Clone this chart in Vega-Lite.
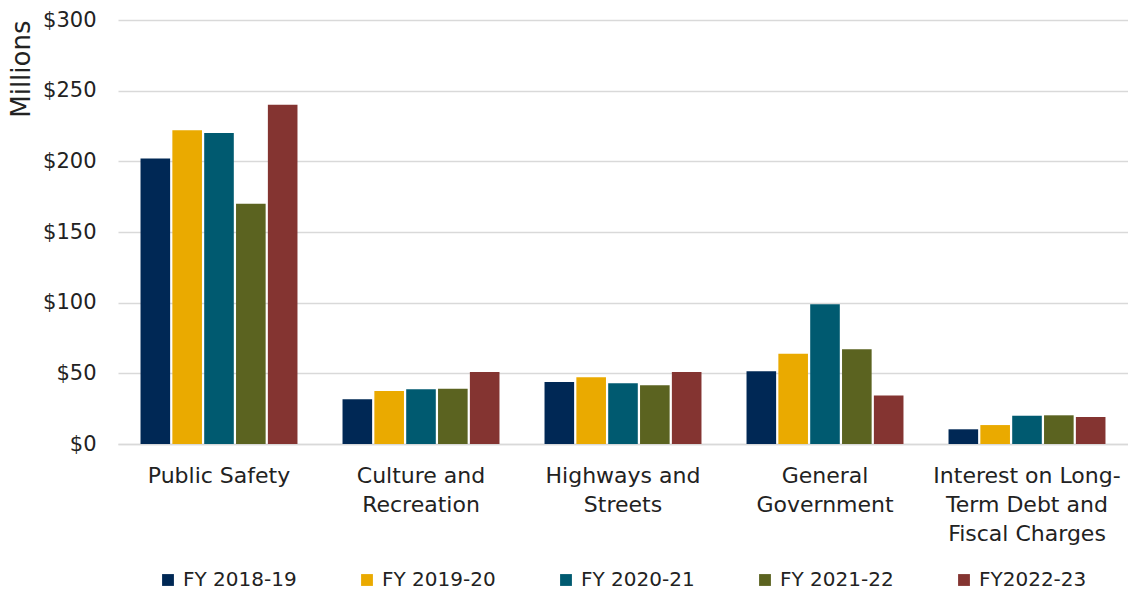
{
  "$schema": "https://vega.github.io/schema/vega-lite/v6.json",
  "width": 1010,
  "height": 424,
  "autosize": {"type": "none"},
  "padding": {"left": 118, "top": 20, "right": 0, "bottom": 152},
  "background": "white",
  "config": {
    "view": {"stroke": null},
    "font": "DejaVu Sans"
  },
  "data": {
    "values": [
      {"category": "Public Safety", "year": "FY 2018-19", "value": 202},
      {"category": "Public Safety", "year": "FY 2019-20", "value": 222},
      {"category": "Public Safety", "year": "FY 2020-21", "value": 220},
      {"category": "Public Safety", "year": "FY 2021-22", "value": 170},
      {"category": "Public Safety", "year": "FY2022-23", "value": 240},
      {"category": "Culture and Recreation", "year": "FY 2018-19", "value": 31.6},
      {"category": "Culture and Recreation", "year": "FY 2019-20", "value": 37.5},
      {"category": "Culture and Recreation", "year": "FY 2020-21", "value": 38.7},
      {"category": "Culture and Recreation", "year": "FY 2021-22", "value": 39.1},
      {"category": "Culture and Recreation", "year": "FY2022-23", "value": 51},
      {"category": "Highways and Streets", "year": "FY 2018-19", "value": 43.9},
      {"category": "Highways and Streets", "year": "FY 2019-20", "value": 47.2},
      {"category": "Highways and Streets", "year": "FY 2020-21", "value": 42.9},
      {"category": "Highways and Streets", "year": "FY 2021-22", "value": 41.5},
      {"category": "Highways and Streets", "year": "FY2022-23", "value": 51},
      {"category": "General Government", "year": "FY 2018-19", "value": 51.4},
      {"category": "General Government", "year": "FY 2019-20", "value": 63.9},
      {"category": "General Government", "year": "FY 2020-21", "value": 98.8},
      {"category": "General Government", "year": "FY 2021-22", "value": 67},
      {"category": "General Government", "year": "FY2022-23", "value": 34.4},
      {"category": "Interest on Long-Term Debt and Fiscal Charges", "year": "FY 2018-19", "value": 10.4},
      {"category": "Interest on Long-Term Debt and Fiscal Charges", "year": "FY 2019-20", "value": 13.4},
      {"category": "Interest on Long-Term Debt and Fiscal Charges", "year": "FY 2020-21", "value": 20},
      {"category": "Interest on Long-Term Debt and Fiscal Charges", "year": "FY 2021-22", "value": 20.3},
      {"category": "Interest on Long-Term Debt and Fiscal Charges", "year": "FY2022-23", "value": 19.1}
    ]
  },
  "mark": {"type": "bar"},
  "encoding": {
    "x": {
      "field": "category",
      "type": "nominal",
      "sort": null,
      "scale": {"paddingInner": 0.223, "paddingOuter": 0.1115},
      "axis": {
        "title": null,
        "labelAngle": 0,
        "labelFontSize": 22,
        "labelColor": "#222222",
        "labelLineHeight": 29,
        "labelPadding": 21,
        "labelBaseline": "top",
        "labelLimit": 300,
        "ticks": false,
        "domain": true,
        "domainColor": "#d9d9d9",
        "domainWidth": 1.5,
        "labelExpr": "datum.value == 'Culture and Recreation' ? ['Culture and', 'Recreation'] : datum.value == 'Highways and Streets' ? ['Highways and', 'Streets'] : datum.value == 'General Government' ? ['General', 'Government'] : datum.value == 'Interest on Long-Term Debt and Fiscal Charges' ? ['Interest on Long-', 'Term Debt and', 'Fiscal Charges'] : datum.value"
      }
    },
    "xOffset": {
      "field": "year",
      "type": "nominal",
      "sort": null,
      "scale": {"paddingInner": 0.07}
    },
    "y": {
      "field": "value",
      "type": "quantitative",
      "scale": {"domain": [0, 300], "nice": false},
      "axis": {
        "title": "Millions",
        "titleFontSize": 26,
        "titleFontWeight": "normal",
        "titleColor": "#222222",
        "titleAngle": -90,
        "titleAlign": "right",
        "titleBaseline": "middle",
        "titleX": -97,
        "titleY": 0,
        "values": [0, 50, 100, 150, 200, 250, 300],
        "labelExpr": "'$' + datum.value",
        "labelFontSize": 21,
        "labelColor": "#222222",
        "labelPadding": 22,
        "ticks": false,
        "domain": false,
        "gridColor": "#d9d9d9",
        "gridWidth": 1.5
      }
    },
    "color": {
      "field": "year",
      "type": "nominal",
      "sort": null,
      "scale": {
        "domain": ["FY 2018-19", "FY 2019-20", "FY 2020-21", "FY 2021-22", "FY2022-23"],
        "range": ["#002855", "#EAAA00", "#005A70", "#5B6320", "#843431"]
      },
      "legend": {
        "title": null,
        "orient": "none",
        "direction": "horizontal",
        "legendX": 40,
        "legendY": 550,
        "symbolType": "square",
        "symbolSize": 140,
        "symbolStrokeWidth": 0,
        "labelFontSize": 20,
        "labelColor": "#222222",
        "labelOffset": 5,
        "columnPadding": 60,
        "labelLimit": 300
      }
    }
  }
}
